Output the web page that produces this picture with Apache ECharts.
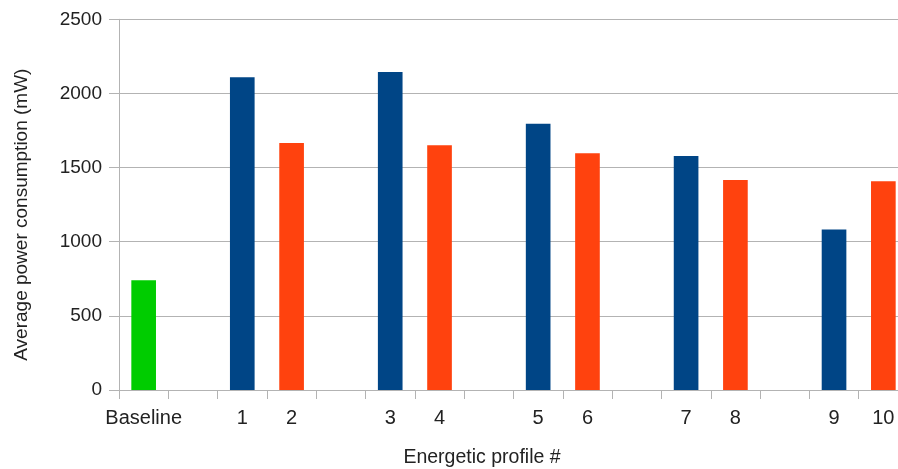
<!DOCTYPE html>
<html>
<head>
<meta charset="utf-8">
<script src="https://cdn.jsdelivr.net/npm/echarts@6/dist/echarts.min.js"></script>
<style>
  html, body { margin: 0; padding: 0; background: #fff; }
  #chart { width: 898px; height: 469px; }
</style>
</head>
<body>
<div id="chart"></div>
<script>
// Category slots; empty strings are spacer slots between profile pairs
const categories = ['Baseline', '', '1', '2', '', '3', '4', '', '5', '6', '', '7', '8', '', '9', '10'];
// Average power (mW) per slot, one array per colour group
const baselineValues = [740, null, null, null, null, null, null, null, null, null, null, null, null, null, null, null];
const oddProfileValues = [null, null, 2110, null, null, 2145, null, null, 1795, null, null, 1578, null, null, 1083, null];
const evenProfileValues = [null, null, null, 1665, null, null, 1650, null, null, 1596, null, null, 1416, null, null, 1407];
const yTicks = [0, 500, 1000, 1500, 2000, 2500];

const FONT = '"Liberation Sans", Arial, sans-serif';
const TEXT = '#222222';
const GRID = '#b3b3b3';

const chart = echarts.init(document.getElementById('chart'), null, { renderer: 'canvas' });

function barSeries(name, values, color) {
  return {
    name: name,
    type: 'bar',
    stack: 'slot',
    data: values.map(v => (v === null ? '-' : v)),
    barWidth: '50%',
    itemStyle: { color: color },
    animation: false
  };
}

chart.setOption({
  animation: false,
  backgroundColor: '#ffffff',
  textStyle: { fontFamily: FONT },
  grid: { left: 119, top: 19.3, width: 789, bottom: 79, containLabel: false, outerBoundsMode: 'none' },
  xAxis: {
    type: 'category',
    data: categories,
    boundaryGap: true,
    name: 'Energetic profile #',
    nameLocation: 'middle',
    nameGap: 58,
    nameTextStyle: { fontFamily: FONT, fontSize: 19.5, color: TEXT, padding: [0, 63, 0, 0] },
    axisLine: { show: true, lineStyle: { color: GRID, width: 1 } },
    axisTick: { show: true, length: 9, interval: 0, alignWithLabel: false, lineStyle: { color: GRID } },
    axisLabel: { interval: 0, margin: 18, fontFamily: FONT, fontSize: 20, color: TEXT },
    splitLine: { show: false }
  },
  yAxis: {
    type: 'value',
    min: yTicks[0],
    max: yTicks[yTicks.length - 1],
    interval: 500,
    name: 'Average power consumption (mW)',
    nameLocation: 'middle',
    nameGap: 88,
    nameTextStyle: { fontFamily: FONT, fontSize: 19, color: TEXT, padding: [0, 20, 0, 0] },
    axisLine: { show: true, lineStyle: { color: GRID, width: 1 } },
    axisTick: { show: true, length: 10, lineStyle: { color: GRID } },
    axisLabel: { margin: 17, fontFamily: FONT, fontSize: 19, color: TEXT, formatter: v => String(v) },
    splitLine: { show: true, lineStyle: { color: GRID, width: 1 } }
  },
  series: [
    barSeries('Baseline', baselineValues, '#00cc00'),
    barSeries('Odd profiles', oddProfileValues, '#004586'),
    barSeries('Even profiles', evenProfileValues, '#ff420e')
  ]
});
</script>
</body>
</html>
